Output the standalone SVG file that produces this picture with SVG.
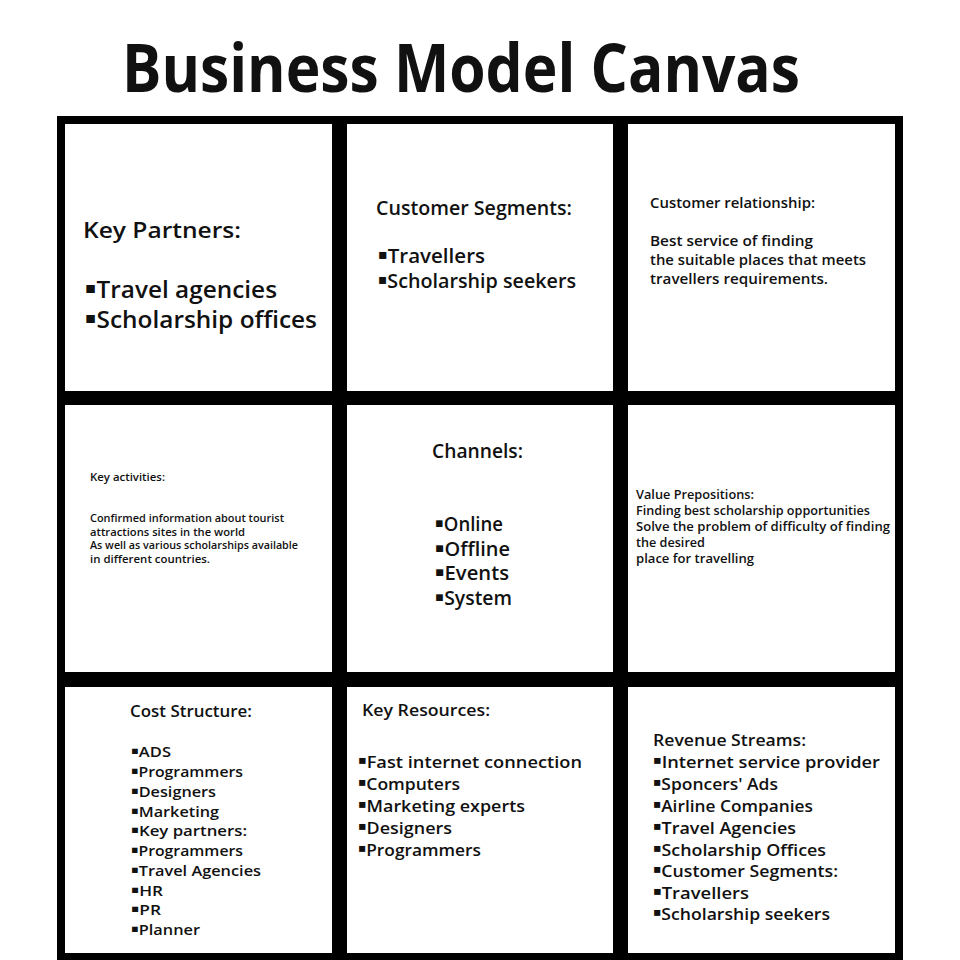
<svg xmlns="http://www.w3.org/2000/svg" width="960" height="960" viewBox="0 0 960 960">
<style>
text{font-family:"Open Sans","DejaVu Sans",sans-serif;fill:#111;font-weight:600}
.cell{fill:#fff}
.t{font-weight:700}
.b{font-size:70%;baseline-shift:30%}
</style>
<rect width="960" height="960" fill="#fff"/>
<text x="122" y="92" font-size="66" class="t" textLength="678" lengthAdjust="spacingAndGlyphs">Business Model Canvas</text>
<rect x="57" y="116" width="846" height="844" fill="#000"/>
<g id="key-partners">
<rect class="cell" x="65" y="124" width="267" height="267"/>
<text x="83" y="238" font-size="22" textLength="158" lengthAdjust="spacingAndGlyphs">Key Partners:</text>
<text x="85" y="298" font-size="23" textLength="192" lengthAdjust="spacingAndGlyphs"><tspan class="b">▪</tspan>Travel agencies</text>
<text x="85" y="328" font-size="23" textLength="232" lengthAdjust="spacingAndGlyphs"><tspan class="b">▪</tspan>Scholarship offices</text>
</g>
<g id="customer-segments">
<rect class="cell" x="347" y="124" width="266" height="267"/>
<text x="376" y="215" font-size="19" textLength="196" lengthAdjust="spacingAndGlyphs">Customer Segments:</text>
<text x="378" y="263" font-size="20" textLength="107" lengthAdjust="spacingAndGlyphs"><tspan class="b">▪</tspan>Travellers</text>
<text x="378" y="288" font-size="20" textLength="198" lengthAdjust="spacingAndGlyphs"><tspan class="b">▪</tspan>Scholarship seekers</text>
</g>
<g id="customer-relationship">
<rect class="cell" x="628" y="124" width="267" height="267"/>
<text x="650" y="208" font-size="14" textLength="165" lengthAdjust="spacingAndGlyphs">Customer relationship:</text>
<text x="650" y="246" font-size="15" textLength="163" lengthAdjust="spacingAndGlyphs">Best service of finding</text>
<text x="650" y="265" font-size="15" textLength="216" lengthAdjust="spacingAndGlyphs">the suitable places that meets</text>
<text x="650" y="284" font-size="15" textLength="178" lengthAdjust="spacingAndGlyphs">travellers requirements.</text>
</g>
<g id="key-activities">
<rect class="cell" x="65" y="405" width="267" height="267"/>
<text x="90" y="481" font-size="10.5" textLength="75" lengthAdjust="spacingAndGlyphs">Key activities:</text>
<text x="90" y="522" font-size="10.5" textLength="194" lengthAdjust="spacingAndGlyphs">Confirmed information about tourist</text>
<text x="90" y="535.5" font-size="10.5" textLength="155" lengthAdjust="spacingAndGlyphs">attractions sites in the world</text>
<text x="90" y="549" font-size="10.5" textLength="208" lengthAdjust="spacingAndGlyphs">As well as various scholarships available</text>
<text x="90" y="563" font-size="10.5" textLength="120" lengthAdjust="spacingAndGlyphs">in different countries.</text>
</g>
<g id="channels">
<rect class="cell" x="347" y="405" width="266" height="267"/>
<text x="432" y="458" font-size="19" textLength="91" lengthAdjust="spacingAndGlyphs">Channels:</text>
<text x="435" y="531" font-size="19" textLength="68" lengthAdjust="spacingAndGlyphs"><tspan class="b">▪</tspan>Online</text>
<text x="435" y="556" font-size="19" textLength="75" lengthAdjust="spacingAndGlyphs"><tspan class="b">▪</tspan>Offline</text>
<text x="435" y="580" font-size="19" textLength="74" lengthAdjust="spacingAndGlyphs"><tspan class="b">▪</tspan>Events</text>
<text x="435" y="605" font-size="19" textLength="77" lengthAdjust="spacingAndGlyphs"><tspan class="b">▪</tspan>System</text>
</g>
<g id="value-propositions">
<rect class="cell" x="628" y="405" width="267" height="267"/>
<text x="636" y="499" font-size="12.5" textLength="118" lengthAdjust="spacingAndGlyphs">Value Prepositions:</text>
<text x="636" y="515" font-size="12.5" textLength="234" lengthAdjust="spacingAndGlyphs">Finding best scholarship opportunities</text>
<text x="636" y="531" font-size="12.5" textLength="254" lengthAdjust="spacingAndGlyphs">Solve the problem of difficulty of finding</text>
<text x="636" y="547" font-size="12.5" textLength="69" lengthAdjust="spacingAndGlyphs">the desired</text>
<text x="636" y="563" font-size="12.5" textLength="118" lengthAdjust="spacingAndGlyphs">place for travelling</text>
</g>
<g id="cost-structure">
<rect class="cell" x="65" y="687" width="267" height="266"/>
<text x="130" y="717" font-size="16" textLength="122" lengthAdjust="spacingAndGlyphs">Cost Structure:</text>
<text x="131" y="757" font-size="15" textLength="40" lengthAdjust="spacingAndGlyphs"><tspan class="b">▪</tspan>ADS</text>
<text x="131" y="777" font-size="15" textLength="112" lengthAdjust="spacingAndGlyphs"><tspan class="b">▪</tspan>Programmers</text>
<text x="131" y="797" font-size="15" textLength="85" lengthAdjust="spacingAndGlyphs"><tspan class="b">▪</tspan>Designers</text>
<text x="131" y="817" font-size="15" textLength="88" lengthAdjust="spacingAndGlyphs"><tspan class="b">▪</tspan>Marketing</text>
<text x="131" y="836" font-size="15" textLength="116" lengthAdjust="spacingAndGlyphs"><tspan class="b">▪</tspan>Key partners:</text>
<text x="131" y="856" font-size="15" textLength="112" lengthAdjust="spacingAndGlyphs"><tspan class="b">▪</tspan>Programmers</text>
<text x="131" y="876" font-size="15" textLength="130" lengthAdjust="spacingAndGlyphs"><tspan class="b">▪</tspan>Travel Agencies</text>
<text x="131" y="896" font-size="15" textLength="32" lengthAdjust="spacingAndGlyphs"><tspan class="b">▪</tspan>HR</text>
<text x="131" y="915" font-size="15" textLength="30" lengthAdjust="spacingAndGlyphs"><tspan class="b">▪</tspan>PR</text>
<text x="131" y="935" font-size="15" textLength="69" lengthAdjust="spacingAndGlyphs"><tspan class="b">▪</tspan>Planner</text>
</g>
<g id="key-resources">
<rect class="cell" x="347" y="687" width="266" height="266"/>
<text x="362" y="716" font-size="17" textLength="128" lengthAdjust="spacingAndGlyphs">Key Resources:</text>
<text x="358" y="768" font-size="17" textLength="224" lengthAdjust="spacingAndGlyphs"><tspan class="b">▪</tspan>Fast internet connection</text>
<text x="358" y="790" font-size="17" textLength="102" lengthAdjust="spacingAndGlyphs"><tspan class="b">▪</tspan>Computers</text>
<text x="358" y="812" font-size="17" textLength="167" lengthAdjust="spacingAndGlyphs"><tspan class="b">▪</tspan>Marketing experts</text>
<text x="358" y="834" font-size="17" textLength="94" lengthAdjust="spacingAndGlyphs"><tspan class="b">▪</tspan>Designers</text>
<text x="358" y="856" font-size="17" textLength="123" lengthAdjust="spacingAndGlyphs"><tspan class="b">▪</tspan>Programmers</text>
</g>
<g id="revenue-streams">
<rect class="cell" x="628" y="687" width="267" height="266"/>
<text x="653" y="746" font-size="17" textLength="153" lengthAdjust="spacingAndGlyphs">Revenue Streams:</text>
<text x="653" y="768" font-size="17" textLength="227" lengthAdjust="spacingAndGlyphs"><tspan class="b">▪</tspan>Internet service provider</text>
<text x="653" y="790" font-size="17" textLength="125" lengthAdjust="spacingAndGlyphs"><tspan class="b">▪</tspan>Sponcers' Ads</text>
<text x="653" y="812" font-size="17" textLength="160" lengthAdjust="spacingAndGlyphs"><tspan class="b">▪</tspan>Airline Companies</text>
<text x="653" y="834" font-size="17" textLength="143" lengthAdjust="spacingAndGlyphs"><tspan class="b">▪</tspan>Travel Agencies</text>
<text x="653" y="856" font-size="17" textLength="173" lengthAdjust="spacingAndGlyphs"><tspan class="b">▪</tspan>Scholarship Offices</text>
<text x="653" y="877" font-size="17" textLength="185" lengthAdjust="spacingAndGlyphs"><tspan class="b">▪</tspan>Customer Segments:</text>
<text x="653" y="899" font-size="17" textLength="96" lengthAdjust="spacingAndGlyphs"><tspan class="b">▪</tspan>Travellers</text>
<text x="653" y="920" font-size="17" textLength="177" lengthAdjust="spacingAndGlyphs"><tspan class="b">▪</tspan>Scholarship seekers</text>
</g>
</svg>
